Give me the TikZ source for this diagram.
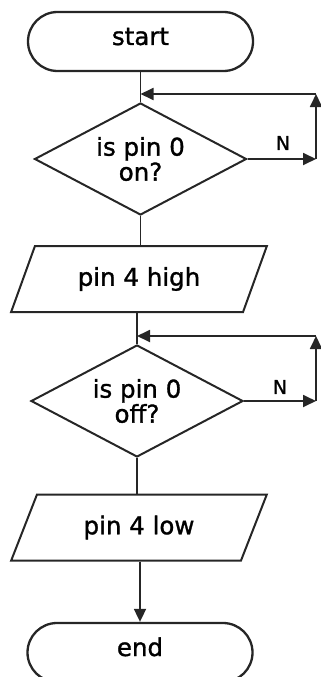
\documentclass[tikz,border=0pt]{standalone}
\usepackage{fontspec}
\setmainfont{DejaVu Sans}
\newfontfamily\chartfont{DejaVu Sans}[FakeBold=1.2]
\usetikzlibrary{shapes.geometric,arrows.meta}

\tikzset{
  ink/.style={draw=black!85},
  chartfont/.style={font=\chartfont\fontsize{24.5pt}{25pt}\selectfont},
  terminal/.style={ink, line width=2.3pt, rectangle, rounded corners=29.5pt,
    minimum width=225pt, minimum height=59pt, inner sep=0pt,
    text height=18pt, text depth=11pt, chartfont},
  decision/.style={ink, line width=2pt, diamond, shape aspect=1.88,
    minimum width=212pt, minimum height=112pt, inner sep=0pt, align=center,
    chartfont},
  io/.style={ink, line width=2pt, trapezium, trapezium left angle=59.4,
    trapezium right angle=120.6, trapezium stretches=true,
    minimum width=256pt, minimum height=66pt, inner sep=0pt, chartfont},
  flow/.style={draw=black!85, line width=1.8pt},
  arr/.style={flow, -{Triangle[length=13pt,width=12pt]}},
  tag/.style={font=\chartfont\fontsize{19pt}{19pt}\selectfont, inner sep=0pt}
}

\begin{document}
\begin{tikzpicture}[x=1pt,y=-1pt]
  \useasboundingbox (0,0) rectangle (321,677);

  % process steps
  \node[terminal] (start) at (140.5,41.5) {start};
  \node[decision] (d1) at (140.5,159) {is pin 0\\on?};
  \node[io] (p1) at (139,279) {pin 4 high};
  \node[decision] (d2) at (137,401) {is pin 0\\off?};
  \node[io] (p2) at (139,527.5) {pin 4 low};
  \node[terminal] (end) at (140,652.5) {end};

  % main flow
  \draw[flow] (start.south) -- (d1.north);
  \draw[flow] (d1.south) -- (d1.south |- p1.north);
  \draw[flow] (d2.north |- p1.south) -- (d2.north);
  \draw[flow] (d2.south) -- (d2.south |- p2.north);
  \draw[arr] (p2.south -| end.north) -- (end.north);

  % wait loop on pin 0 on
  \coordinate (r1) at (316,159);
  \coordinate (u1) at (316,94);
  \coordinate (j1) at (d1.north |- u1);
  \draw[arr] (d1.east) -- (r1);
  \draw[arr] (r1) -- (u1);
  \draw[arr] (u1) -- (j1);
  \node[tag] (n1) at (283,143) {N};

  % wait loop on pin 0 off
  \coordinate (r2) at (316,401);
  \coordinate (u2) at (316,336);
  \coordinate (j2) at (d2.north |- u2);
  \draw[arr] (d2.east) -- (r2);
  \draw[arr] (r2) -- (u2);
  \draw[arr] (u2) -- (j2);
  \node[tag] (n2) at (280,387) {N};
\end{tikzpicture}
\end{document}
